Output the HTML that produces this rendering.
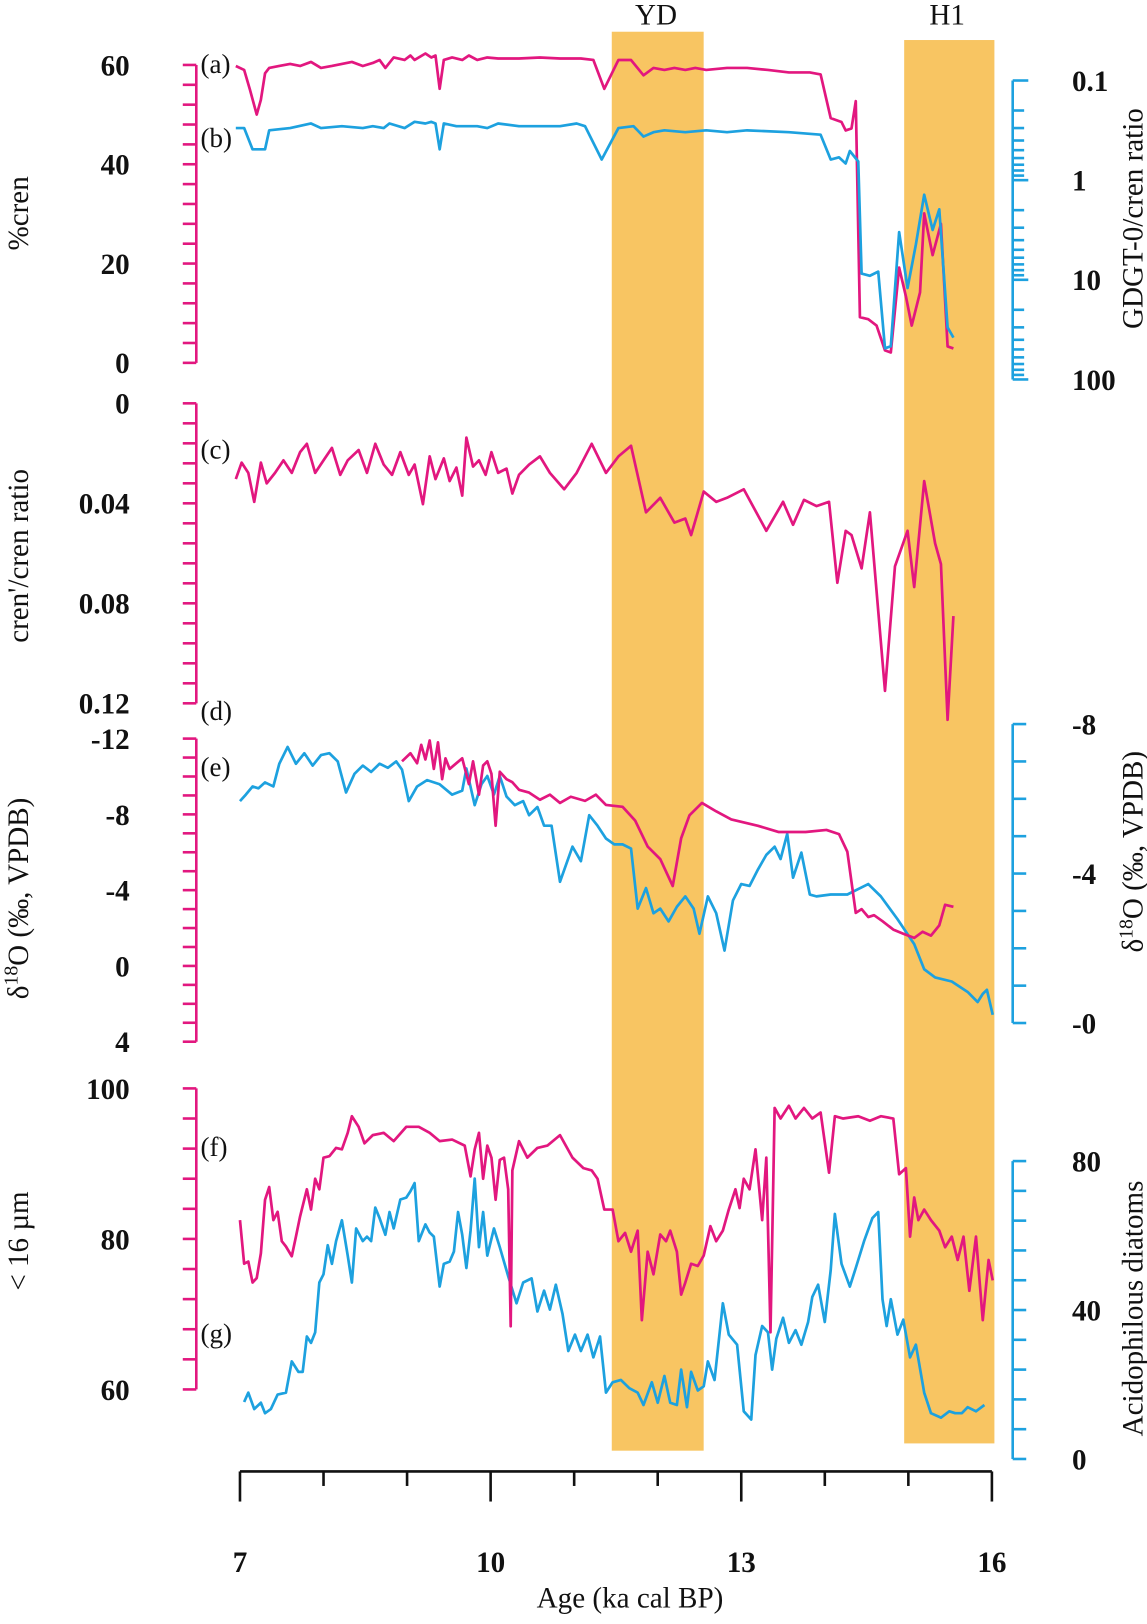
<!DOCTYPE html>
<html><head><meta charset="utf-8"><style>
html,body{margin:0;padding:0;background:#fff;}
svg{display:block;font-family:"Liberation Serif",serif;}
</style></head><body>
<svg id="chart" width="1147" height="1624" viewBox="0 0 1147 1624" xmlns="http://www.w3.org/2000/svg">
<g transform="matrix(1.04,0,0,1.038,-1.3,-4.6)">
<g id="bands"></g><g id="axes"></g><g id="series"></g><g id="labels"></g>
</g>
</svg>
<script>
// ---- data (age ka cal BP, value) ----
const ageTicks = [7,8,9,10,11,12,13,14,15,16];
const ageLabels = [7,10,13,16];
const bandYD = [11.45,12.55];
const bandH1 = [14.95,16.03];
const crenPct = [[6.95,59.8],[7.05,59],[7.12,55],[7.2,50],[7.25,53],[7.3,58.3],[7.35,59.4],[7.47,59.8],[7.6,60.2],[7.72,59.8],[7.85,60.6],[7.97,59.4],[8.1,59.8],[8.22,60.2],[8.34,60.6],[8.47,59.8],[8.59,60.4],[8.67,61],[8.74,59.4],[8.84,61.5],[8.97,61],[9.04,61.9],[9.09,61],[9.22,62.3],[9.29,61.5],[9.34,61.9],[9.39,55.2],[9.44,61],[9.54,61.5],[9.66,61],[9.74,61.9],[9.84,61],[9.96,61.5],[10.09,61.3],[10.34,61.3],[10.59,61.5],[10.83,61.3],[11.08,61.3],[11.23,61],[11.36,55.2],[11.53,61],[11.68,61],[11.83,57.9],[11.95,59.4],[12.08,59],[12.2,59.4],[12.33,59],[12.45,59.4],[12.58,59],[12.83,59.4],[13.07,59.4],[13.32,59],[13.57,58.5],[13.82,58.5],[13.95,58.1],[14.07,49.3],[14.2,48.5],[14.25,46.8],[14.32,47.2],[14.37,52.7],[14.42,9.2],[14.52,8.8],[14.62,7.5],[14.72,2.5],[14.79,2.1],[14.89,19.2],[14.97,13.4],[15.04,7.5],[15.14,14.2],[15.19,30.1],[15.29,21.7],[15.39,28],[15.47,3.3],[15.54,2.9]];
const gdgtRatio = [[6.95,0.3],[7.05,0.3],[7.15,0.49],[7.3,0.49],[7.35,0.316],[7.6,0.3],[7.85,0.27],[7.97,0.3],[8.22,0.287],[8.47,0.3],[8.59,0.287],[8.72,0.3],[8.79,0.27],[8.97,0.3],[9.09,0.26],[9.22,0.27],[9.29,0.26],[9.34,0.27],[9.39,0.49],[9.44,0.27],[9.59,0.287],[9.84,0.287],[9.96,0.3],[10.09,0.27],[10.34,0.287],[10.83,0.287],[11.03,0.27],[11.13,0.287],[11.33,0.62],[11.53,0.3],[11.71,0.287],[11.83,0.365],[11.95,0.33],[12.08,0.316],[12.33,0.33],[12.58,0.316],[12.83,0.33],[13.07,0.316],[13.57,0.33],[13.95,0.35],[14.07,0.62],[14.17,0.59],[14.25,0.68],[14.3,0.51],[14.4,0.65],[14.44,8.66],[14.54,9.1],[14.64,8.27],[14.72,48.7],[14.79,46.4],[14.89,3.32],[14.99,12.1],[15.09,4.42],[15.19,1.4],[15.29,3.16],[15.37,1.96],[15.47,30],[15.54,38]];
const crenRatio = [[6.95,0.0303],[7.02,0.0237],[7.1,0.0278],[7.17,0.0394],[7.25,0.0237],[7.32,0.032],[7.42,0.0278],[7.52,0.0228],[7.62,0.0278],[7.72,0.0195],[7.8,0.0162],[7.9,0.0278],[8.0,0.0228],[8.1,0.0178],[8.2,0.0286],[8.29,0.0228],[8.42,0.0187],[8.52,0.0278],[8.62,0.0162],[8.72,0.0245],[8.82,0.0286],[8.92,0.0195],[9.02,0.0286],[9.09,0.0245],[9.19,0.0403],[9.27,0.0212],[9.34,0.0303],[9.44,0.022],[9.51,0.0311],[9.59,0.0257],[9.66,0.0369],[9.71,0.0137],[9.79,0.0253],[9.86,0.0228],[9.94,0.0286],[10.01,0.0195],[10.09,0.0278],[10.19,0.0261],[10.26,0.0361],[10.34,0.0286],[10.46,0.0245],[10.59,0.0212],[10.71,0.0278],[10.88,0.0344],[11.03,0.0278],[11.21,0.0162],[11.38,0.0278],[11.53,0.0212],[11.68,0.0170],[11.86,0.0436],[12.03,0.0378],[12.2,0.0477],[12.33,0.0461],[12.4,0.0527],[12.55,0.0353],[12.7,0.0394],[12.83,0.0378],[13.03,0.0344],[13.3,0.051],[13.5,0.0394],[13.62,0.0486],[13.75,0.0386],[13.9,0.0411],[14.05,0.0394],[14.15,0.0718],[14.25,0.051],[14.32,0.0527],[14.44,0.066],[14.54,0.0436],[14.72,0.115],[14.84,0.0652],[14.99,0.051],[15.07,0.0735],[15.19,0.0311],[15.32,0.056],[15.39,0.0643],[15.47,0.1266],[15.54,0.0851]];
const d18OLake = [[8.94,-10.8],[9.04,-11.23],[9.12,-10.7],[9.17,-11.67],[9.22,-10.9],[9.27,-11.9],[9.32,-10.4],[9.37,-11.8],[9.42,-9.86],[9.46,-10.96],[9.51,-10.4],[9.59,-10.7],[9.66,-10.96],[9.74,-9.6],[9.79,-10.8],[9.86,-9.04],[9.91,-10.58],[9.96,-10.8],[10.01,-10.14],[10.06,-7.4],[10.11,-10.25],[10.19,-9.86],[10.26,-9.7],[10.34,-9.3],[10.46,-9.15],[10.59,-8.77],[10.71,-9.04],[10.83,-8.6],[10.96,-8.93],[11.13,-8.71],[11.26,-9.04],[11.38,-8.5],[11.58,-8.4],[11.73,-7.67],[11.88,-6.3],[12.03,-5.64],[12.18,-4.22],[12.28,-6.74],[12.38,-7.95],[12.53,-8.6],[12.7,-8.16],[12.88,-7.73],[13.2,-7.4],[13.45,-7.07],[13.77,-7.07],[14.02,-7.18],[14.17,-6.96],[14.27,-6.03],[14.37,-2.8],[14.44,-3.0],[14.52,-2.58],[14.59,-2.68],[14.69,-2.36],[14.82,-1.92],[14.94,-1.7],[15.07,-1.48],[15.17,-1.8],[15.27,-1.6],[15.37,-2.14],[15.44,-3.23],[15.54,-3.12]];
const d18OCave = [[7.0,-5.94],[7.07,-6.11],[7.15,-6.33],[7.22,-6.28],[7.3,-6.44],[7.4,-6.33],[7.47,-6.94],[7.57,-7.39],[7.67,-6.94],[7.77,-7.22],[7.87,-6.89],[7.97,-7.17],[8.07,-7.22],[8.17,-7.0],[8.27,-6.17],[8.37,-6.67],[8.47,-6.89],[8.57,-6.72],[8.67,-6.94],[8.77,-6.83],[8.87,-7.0],[8.94,-6.78],[9.02,-5.94],[9.12,-6.33],[9.24,-6.5],[9.39,-6.39],[9.54,-6.11],[9.66,-6.22],[9.71,-6.81],[9.81,-5.83],[9.89,-6.39],[9.96,-6.61],[10.04,-6.11],[10.11,-6.61],[10.19,-6.06],[10.29,-5.83],[10.39,-5.94],[10.46,-5.56],[10.56,-5.78],[10.64,-5.28],[10.73,-5.28],[10.83,-3.78],[10.91,-4.28],[10.98,-4.72],[11.08,-4.33],[11.18,-5.56],[11.28,-5.28],[11.38,-4.94],[11.48,-4.78],[11.58,-4.78],[11.68,-4.67],[11.76,-3.06],[11.86,-3.61],[11.95,-2.94],[12.03,-3.06],[12.13,-2.72],[12.23,-3.11],[12.33,-3.39],[12.43,-3.06],[12.5,-2.39],[12.6,-3.39],[12.7,-2.94],[12.8,-1.94],[12.9,-3.28],[13.0,-3.72],[13.1,-3.67],[13.2,-4.11],[13.3,-4.5],[13.4,-4.72],[13.47,-4.39],[13.55,-5.06],[13.62,-3.89],[13.72,-4.56],[13.82,-3.44],[13.9,-3.39],[14.07,-3.44],[14.27,-3.44],[14.52,-3.72],[14.67,-3.39],[14.87,-2.78],[15.07,-2.11],[15.19,-1.44],[15.32,-1.22],[15.52,-1.11],[15.71,-0.83],[15.83,-0.56],[15.89,-0.78],[15.94,-0.89],[16.01,-0.22]];
const fineGrain = [[7.0,82.5],[7.05,76.7],[7.1,77],[7.15,74.2],[7.2,74.8],[7.25,78.1],[7.3,85.2],[7.35,86.9],[7.4,82.5],[7.45,83.6],[7.5,79.7],[7.55,79],[7.62,77.7],[7.67,80.3],[7.72,83],[7.8,86.6],[7.85,83.9],[7.9,88],[7.95,86.6],[8.0,90.8],[8.07,91],[8.15,92.1],[8.22,91.9],[8.29,94.1],[8.34,96.3],[8.42,94.9],[8.49,92.7],[8.59,93.8],[8.72,94.1],[8.84,93],[8.99,94.9],[9.14,94.9],[9.27,94.1],[9.39,93],[9.54,93.2],[9.69,92.4],[9.76,88.3],[9.81,91.9],[9.86,94.1],[9.91,88],[9.96,92.4],[10.01,90.8],[10.06,85.2],[10.11,90.5],[10.16,90.8],[10.21,86.6],[10.24,68.4],[10.26,89.1],[10.34,93],[10.44,90.8],[10.56,92.1],[10.68,92.4],[10.83,93.8],[10.98,90.8],[11.11,89.4],[11.21,89.1],[11.28,88],[11.36,83.9],[11.46,83.9],[11.53,79.7],[11.61,80.8],[11.68,78.3],[11.76,81.1],[11.81,69.2],[11.88,78.3],[11.95,75.3],[12.03,80.6],[12.1,79.7],[12.15,81.1],[12.23,78.3],[12.28,72.6],[12.33,74.2],[12.4,76.7],[12.48,76.4],[12.55,77.8],[12.63,81.7],[12.7,79.7],[12.78,81.1],[12.85,83.9],[12.93,86.6],[12.98,84.1],[13.03,88],[13.1,86.6],[13.17,91.9],[13.25,82.5],[13.3,90.8],[13.35,67.6],[13.4,97.4],[13.47,96],[13.57,97.7],[13.65,96],[13.75,97.4],[13.85,96],[13.95,96.8],[14.05,88.8],[14.12,96.3],[14.22,96],[14.4,96.3],[14.54,95.7],[14.67,96.3],[14.82,96],[14.89,88.6],[14.97,89.4],[15.02,80.3],[15.07,85.5],[15.12,82.5],[15.19,83.9],[15.27,82.5],[15.37,81.1],[15.44,78.9],[15.52,80.3],[15.59,77.2],[15.66,80.3],[15.73,73.1],[15.81,80.3],[15.89,69.2],[15.96,77.2],[16.01,74.5]];
const acidDiatoms = [[7.05,15.3],[7.1,17.8],[7.17,13.4],[7.25,15.1],[7.3,12.3],[7.37,13.4],[7.45,17.3],[7.55,17.8],[7.62,26.2],[7.7,23.4],[7.75,23.4],[7.8,32.9],[7.85,31.2],[7.9,34],[7.95,47.4],[8.0,49.6],[8.05,57.4],[8.1,52.4],[8.15,58.5],[8.22,64.1],[8.29,54.6],[8.34,47.4],[8.39,61.9],[8.47,58.5],[8.52,59.7],[8.57,58.5],[8.62,67.5],[8.67,64.7],[8.74,60.2],[8.79,66.3],[8.84,61.9],[8.92,69.7],[8.99,70.2],[9.04,71.9],[9.09,74.1],[9.14,58.5],[9.22,63],[9.27,60.8],[9.32,59.7],[9.39,46.3],[9.44,52.4],[9.51,53],[9.56,55.7],[9.61,66.3],[9.66,60.2],[9.71,51.3],[9.76,61.3],[9.81,75.3],[9.86,56.9],[9.91,66.3],[9.96,54.6],[10.04,61.9],[10.11,56.9],[10.21,49.1],[10.31,41.8],[10.39,47.4],[10.49,48.5],[10.56,39.6],[10.64,45.2],[10.71,40.1],[10.78,46.8],[10.86,39],[10.93,29],[11.01,33.4],[11.08,29],[11.16,33.4],[11.23,27.3],[11.31,32.9],[11.38,17.8],[11.46,20.6],[11.56,21.2],[11.66,19],[11.76,17.8],[11.83,14.5],[11.93,20.6],[12.0,15.1],[12.08,22.3],[12.15,15.1],[12.23,14.5],[12.28,24],[12.35,13.9],[12.4,23.4],[12.48,18.4],[12.55,19.5],[12.6,26.2],[12.68,21.2],[12.78,41.8],[12.85,33.4],[12.95,30.7],[13.03,12.8],[13.12,10.6],[13.17,27.9],[13.25,35.7],[13.32,34],[13.37,24],[13.42,32.3],[13.5,37.9],[13.57,31.2],[13.65,34.6],[13.72,30.7],[13.8,36.8],[13.85,43.5],[13.92,46.8],[14.0,36.8],[14.07,50.7],[14.12,65.8],[14.2,52.4],[14.3,46.3],[14.37,51.3],[14.47,58.5],[14.57,64.7],[14.64,66.3],[14.69,42.9],[14.74,35.7],[14.79,42.9],[14.87,33.4],[14.94,37.4],[15.02,27.3],[15.09,30.7],[15.19,17.8],[15.27,12.3],[15.39,11.1],[15.49,12.8],[15.56,12.3],[15.64,12.3],[15.71,13.9],[15.81,12.8],[15.91,14.5]];

const PINK = "#e2177f", BLUE = "#1da1df", BAND = "#f8c562";
const NS = "http://www.w3.org/2000/svg";
function mk(tag, attrs, parent){const e=document.createElementNS(NS,tag);for(const k in attrs)e.setAttribute(k,attrs[k]);parent.appendChild(e);return e;}
const X = a => 232 + (a-7)*(955-232)/9;
const lin = (v0,y0,v1,y1) => v => y0 + (v-v0)*(y1-y0)/(v1-v0);
const yA = lin(0,354,60,67);
const yB = v => 82 + (Math.log10(v)+1)*96;
const yC = lin(0,393,0.12,682);
const yD = lin(-12,716,4,1008);
const yE = lin(-8,702,0,990);
const yF = lin(60,1343,100,1053);
const yG = lin(0,1410,80,1123);

const bands = document.getElementById('bands');
let r = mk('rect',{x:X(bandYD[0]),y:35,width:X(bandYD[1])-X(bandYD[0]),height:1367,fill:BAND},bands);


r = mk('rect',{x:X(bandH1[0]),y:43,width:X(bandH1[1])-X(bandH1[0]),height:1352,fill:BAND},bands);



const axes = document.getElementById('axes');
const labels = document.getElementById('labels');
function txt(s,x,y,opts,name){const t=mk('text',Object.assign({x:x,y:y,'font-size':28,fill:'#111'},opts||{}),labels);t.textContent=s;return t;}

function vAxis(name,side,xa,f,v0,v1,step,majors,color){
  const g=mk('g',{stroke:color,'stroke-width':2.5,fill:'none'},axes);
  
  
  mk('line',{x1:xa,y1:f(v0),x2:xa,y2:f(v1)},g);
  const dir = side==='left'?-1:1;
  for(let v=v0; v<=v1+1e-9; v+=step){const y=f(v);mk('line',{x1:xa,y1:y,x2:xa+dir*13,y2:y},g);}
  majors.forEach(m=>{const y=f(m[0]);
    if(side==='left') txt(m[1],126,y+10,{'text-anchor':'end','font-weight':'bold'},name+'-tick-label');
    else txt(m[1],1032,y+10,{'font-weight':'bold'},name+'-tick-label');});
}
vAxis('cren-pct-axis','left',190,yA,0,60,4,[[0,'0'],[20,'20'],[40,'40'],[60,'60']],PINK);
vAxis('cren-ratio-axis','left',190,yC,0,0.12,0.008,[[0,'0'],[0.04,'0.04'],[0.08,'0.08'],[0.12,'0.12']],PINK);
vAxis('d18o-left-axis','left',190,yD,-12,4,1,[[-12,'-12'],[-8,'-8'],[-4,'-4'],[0,'0'],[4,'4']],PINK);
vAxis('grain-axis','left',190,yF,60,100,4,[[60,'60'],[80,'80'],[100,'100']],PINK);
vAxis('d18o-right-axis','right',975,yE,-8,0,1,[[-8,'-8'],[-4,'-4'],[0,'-0']],BLUE);
vAxis('diatom-axis','right',975,yG,0,80,8,[[0,'0'],[40,'40'],[80,'80']],BLUE);
(function(){
  const g=mk('g',{stroke:BLUE,'stroke-width':2.5},axes);
  
  
  mk('line',{x1:975,y1:yB(0.1),x2:975,y2:yB(100)},g);
  [0.1,1,10].forEach(d=>{for(let k=1;k<=9;k++){const y=yB(d*k);mk('line',{x1:975,y1:y,x2:975+(k===1?15:11),y2:y},g);}});
  mk('line',{x1:975,y1:yB(100),x2:990,y2:yB(100)},g);
  [[0.1,'0.1'],[1,'1'],[10,'10'],[100,'100']].forEach(m=>txt(m[1],1032,yB(m[0])+10,{'font-weight':'bold'},'gdgt-axis-tick-label'));
})();
(function(){
  const g=mk('g',{stroke:'#111','stroke-width':2.5},axes);
  
  
  mk('line',{x1:X(7),y1:1422,x2:X(16),y2:1422},g);
  ageTicks.forEach(a=>{const maj=ageLabels.includes(a);mk('line',{x1:X(a),y1:1422,x2:X(a),y2:maj?1451:1436},g);});
  ageLabels.forEach(a=>txt(String(a),X(a),1519,{'text-anchor':'middle','font-weight':'bold'},'age-tick-label'));
})();

const series = document.getElementById('series');
function line(name,data,f,color){
  const p=mk('polyline',{points:data.map(d=>X(d[0]).toFixed(1)+','+f(d[1]).toFixed(1)).join(' '),fill:'none',stroke:color,'stroke-width':2.6,'stroke-linejoin':'round'},series);
  
  
}
line('cren-pct-line',crenPct,yA,PINK);
line('gdgt-ratio-line',gdgtRatio,yB,BLUE);
line('cren-ratio-line',crenRatio,yC,PINK);
line('cave-d18o-line',d18OCave,yE,BLUE);
line('lake-d18o-line',d18OLake,yD,PINK);
line('acid-diatom-line',acidDiatoms,yG,BLUE);
line('fine-grain-line',fineGrain,yF,PINK);

[['(a)',75,'panel-label-a'],['(b)',146,'panel-label-b'],['(c)',446,'panel-label-c'],['(d)',698,'panel-label-d'],['(e)',752,'panel-label-e'],['(f)',1118,'panel-label-f'],['(g)',1298,'panel-label-g']].forEach(l=>txt(l[0],194,l[1],{'font-size':26},l[2]));
txt('YD',632,28,{'text-anchor':'middle'},'yd-label');
txt('H1',912,28,{'text-anchor':'middle'},'h1-label');
txt('Age (ka cal BP)',607,1553,{'text-anchor':'middle'},'x-axis-title');
function vt(s,x,y,name){return txt(s,x,y,{'text-anchor':'middle',transform:'rotate(-90 '+x+' '+y+')'},name);}
vt('%cren',28,210,'cren-pct-title');
vt("cren'/cren ratio",28,540,'cren-ratio-title');
(function(){const t=vt('',28,870,'d18o-left-title');t.innerHTML='δ<tspan dy="-10" font-size="19">18</tspan><tspan dy="10">O (‰, VPDB)</tspan>';})();
vt('< 16 µm',28,1200,'grain-title');
vt('GDGT-0/cren ratio',1100,215,'gdgt-title');
(function(){const t=vt('',1100,825,'d18o-right-title');t.innerHTML='δ<tspan dy="-10" font-size="19">18</tspan><tspan dy="10">O (‰, VPDB)</tspan>';})();
vt('Acidophilous diatoms',1100,1265,'diatom-title');
</script>
</body></html>
